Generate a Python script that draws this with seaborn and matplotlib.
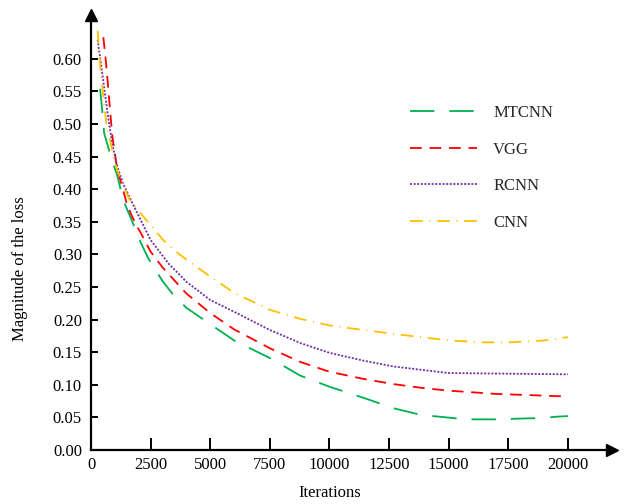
import matplotlib
matplotlib.use("Agg")
import matplotlib.pyplot as plt
import seaborn as sns
import pandas as pd

# ---- data ----
mtcnn_x = [380, 500, 550, 880, 1100, 1350, 1700, 2100, 2400, 3000, 3450, 4000, 5000, 6000,
           7500, 8780, 10000, 11430, 12690, 13700, 14350, 15450, 16100, 17100, 17800,
           18900, 19500, 20000]
mtcnn_y = [0.554, 0.510, 0.486, 0.444, 0.421, 0.383, 0.353, 0.317, 0.294, 0.259, 0.238, 0.218,
           0.193, 0.168, 0.141, 0.114, 0.097, 0.080, 0.064, 0.055, 0.052, 0.048, 0.047,
           0.047, 0.048, 0.049, 0.051, 0.052]

vgg_x = [517, 600, 700, 800, 900, 1000, 1100, 1300, 1500, 1700, 1900, 2100, 2300, 2500, 3000,
         3500, 4000, 5000, 6000, 7500, 8780, 10000, 11430, 12690, 13920, 15000, 16980, 18500,
         20000]
vgg_y = [0.633, 0.605, 0.565, 0.520, 0.480, 0.455, 0.430, 0.405, 0.378, 0.360, 0.345, 0.332,
         0.318, 0.304, 0.280, 0.260, 0.240, 0.210, 0.185, 0.156, 0.135, 0.120, 0.109, 0.101,
         0.095, 0.091, 0.086, 0.084, 0.082]

rcnn_x = [280, 500, 700, 900, 1100, 1350, 1850, 2500, 3250, 4000, 5000, 6000, 7500, 8780,
          10000, 11430, 12690, 15000, 17500, 20000]
rcnn_y = [0.629, 0.570, 0.515, 0.468, 0.435, 0.408, 0.370, 0.322, 0.286, 0.258, 0.230, 0.212,
          0.184, 0.164, 0.149, 0.137, 0.128, 0.118, 0.117, 0.116]

cnn_x = [280, 380, 520, 660, 800, 1000, 1300, 1600, 2000, 2500, 3000, 3500, 4000, 5000, 6000,
         7500, 8780, 10000, 11430, 12690, 15000, 16500, 17500, 19000, 20000]
cnn_y = [0.643, 0.590, 0.541, 0.495, 0.475, 0.440, 0.410, 0.385, 0.366, 0.345, 0.323, 0.306,
         0.292, 0.266, 0.241, 0.215, 0.201, 0.191, 0.184, 0.178, 0.168, 0.165, 0.165, 0.168,
         0.173]

series_names = ["MTCNN", "VGG", "RCNN", "CNN"]
y_ticks = [0.00, 0.05, 0.10, 0.15, 0.20, 0.25, 0.30, 0.35, 0.40, 0.45, 0.50, 0.55, 0.60]
x_ticks = [0, 2500, 5000, 7500, 10000, 12500, 15000, 17500, 20000]

# ---- style ----
sns.set_style("white")
plt.rcParams['font.family'] = ['Liberation Serif', 'DejaVu Serif']

fig = plt.figure(figsize=(6.29, 5.04), dpi=100)
ax = fig.add_axes([91/629, 1-450/504, (612-91)/629, (450-15)/504])

lw = 1.3
styles = {
    "MTCNN": dict(color="#00B050", dashes=(13.5, 8.3)),
    "VGG": dict(color="#FF0000", dashes=(6.5, 4.3)),
    "RCNN": dict(color="#7030A0", dashes=(1.1, 0.9)),
    "CNN": dict(color="#FFC000", dashes=(7, 3.7, 0.6, 3.7)),
}
data = {"MTCNN": (mtcnn_x, mtcnn_y), "VGG": (vgg_x, vgg_y),
        "RCNN": (rcnn_x, rcnn_y), "CNN": (cnn_x, cnn_y)}

for name in series_names:
    xs, ys = data[name]
    df = pd.DataFrame({"Iterations": xs, "loss": ys})
    st = styles[name]
    line_ax = sns.lineplot(data=df, x="Iterations", y="loss", ax=ax, sort=False,
                           color=st["color"], linewidth=lw, label=name)
    line_ax.lines[-1].set_dashes(st["dashes"])

ax.set_xlim(0, 21850)
ax.set_ylim(0, 0.667)
ax.set_xticks(x_ticks)
ax.set_xticklabels([str(v) for v in x_ticks])
ax.set_yticks(y_ticks)
ax.set_yticklabels([f"{v:.2f}" for v in y_ticks])

for s in ["top", "right"]:
    ax.spines[s].set_visible(False)
for s in ["left", "bottom"]:
    ax.spines[s].set_linewidth(1.6)
    ax.spines[s].set_color("black")

ax.tick_params(axis="y", direction="in", length=5, width=1.4, labelsize=12, pad=6.5,
               colors="black", left=True)
ax.tick_params(axis="x", direction="in", length=8.5, width=1.4, labelsize=12, pad=5,
               colors="black", bottom=True)

# arrow heads
ax.plot(1, 0, marker=">", color="black", markersize=8, transform=ax.transAxes, clip_on=False)
ax.plot(0, 1, marker="^", color="black", markersize=8, transform=ax.transAxes, clip_on=False)

ax.set_xlabel("Iterations", fontsize=12, color="black")
ax.set_ylabel("Magnitude of the loss", fontsize=12, color="black")
ax.xaxis.set_label_coords(0.459, -0.08)
ax.yaxis.set_label_coords(-0.12, 0.418)

leg = ax.legend(loc="upper left", bbox_to_anchor=(0.612, 0.793), frameon=False,
                fontsize=12, handlelength=4.0, labelspacing=1.23, handletextpad=1.0,
                borderaxespad=0, borderpad=0)
for h, name in zip(leg.get_lines(), series_names):
    h.set_dashes(styles[name]["dashes"])
    h.set_linewidth(lw)

fig.savefig("out.png", dpi=100)
